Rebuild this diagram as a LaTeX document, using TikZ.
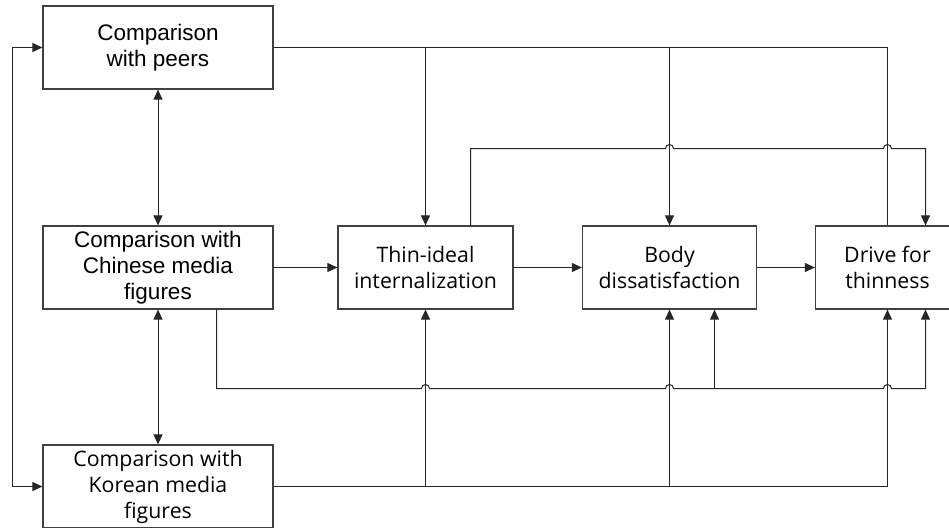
\documentclass[tikz,border=0pt]{standalone}
\usepackage{fontspec}
\usepackage{tikz}
\usetikzlibrary{arrows.meta,positioning,calc}
\newfontfamily\arialfont{Liberation Sans}
\newfontfamily\gothfont{Open Sans}

\tikzset{
    box/.style={draw=black!75, line width=1.2pt, align=center, minimum height=83pt, inner sep=0pt},
    arialtxt/.style={font=\arialfont\fontsize{22.5pt}{26pt}\selectfont},
    gothtxt/.style={font=\gothfont\fontsize{21.3pt}{26pt}\selectfont},
    link/.style={draw=black!85, line width=1pt},
    tip/.style={-{Triangle[length=10pt,width=9pt]}},
    twotip/.style={{Triangle[length=10pt,width=9pt]}-{Triangle[length=10pt,width=9pt]}},
}

\begin{document}
\begin{tikzpicture}[x=1pt, y=-1pt]
    \useasboundingbox (0,0) rectangle (949,527);

    % left column
    \node[box, arialtxt, minimum width=230pt] (peers) at (158,47.5) {Comparison\\with peers};
    \node[box, arialtxt, minimum width=230pt] (chinese) at (158,267.5) {Comparison with\\Chinese media\\figures};
    \node[box, gothtxt, minimum width=230pt] (korean) at (158,486.5) {Comparison with\\Korean media\\figures};

    % middle row
    \node[box, gothtxt, minimum width=175pt] (thin) at (425.5,267.5) {Thin-ideal\\internalization};
    \node[box, gothtxt, minimum width=174pt] (body) at (669.5,267.5) {Body\\dissatisfaction};
    \node[box, gothtxt, minimum width=144pt] (drive) at (887.5,267.5) {Drive for\\thinness};

    % left column links
    \draw[link, twotip] (peers) -- (chinese);
    \draw[link, twotip] (chinese) -- (korean);
    \draw[link, twotip] (peers.west) -- ++(-30,0) |- (korean.west);

    % main path
    \draw[link, tip] (chinese) -- (thin);
    \draw[link, tip] (thin) -- (body);
    \draw[link, tip] (body) -- (drive);

    % from peers
    \draw[link] (peers.east) -| (drive.north);
    \draw[link, tip] (peers.east -| thin.north) -- (thin.north);
    \draw[link, tip] (peers.east -| body.north) -- (body.north);

    % from thin-ideal to drive (hops over two lines)
    \coordinate (tp) at (470.5,148.5);
    \draw[link, tip] ([xshift=45pt]thin.north) -- (tp)
        -- (665.5,148.5) arc[start angle=180, end angle=0, radius=4pt]
        -- (883.5,148.5) arc[start angle=180, end angle=0, radius=4pt]
        -- (925.5,148.5) -- ([xshift=38pt]drive.north);

    % from chinese along the bottom
    \coordinate (cb) at (216.5,388.5);
    \coordinate (bj) at (714.5,388.5);
    \draw[link, tip] ([xshift=58.5pt]chinese.south) -- (cb)
        -- (421.5,388.5) arc[start angle=180, end angle=0, radius=4pt]
        -- (665.5,388.5) arc[start angle=180, end angle=0, radius=4pt]
        -- (883.5,388.5) arc[start angle=180, end angle=0, radius=4pt]
        -- (925.5,388.5) -- ([xshift=38pt]drive.south);
    \draw[link, tip] (bj) -- ([xshift=45pt]body.south);

    % from korean
    \draw[link, tip] (korean.east) -| (drive.south);
    \draw[link, tip] (korean.east -| thin.south) -- (thin.south);
    \draw[link, tip] (korean.east -| body.south) -- (body.south);
\end{tikzpicture}
\end{document}
